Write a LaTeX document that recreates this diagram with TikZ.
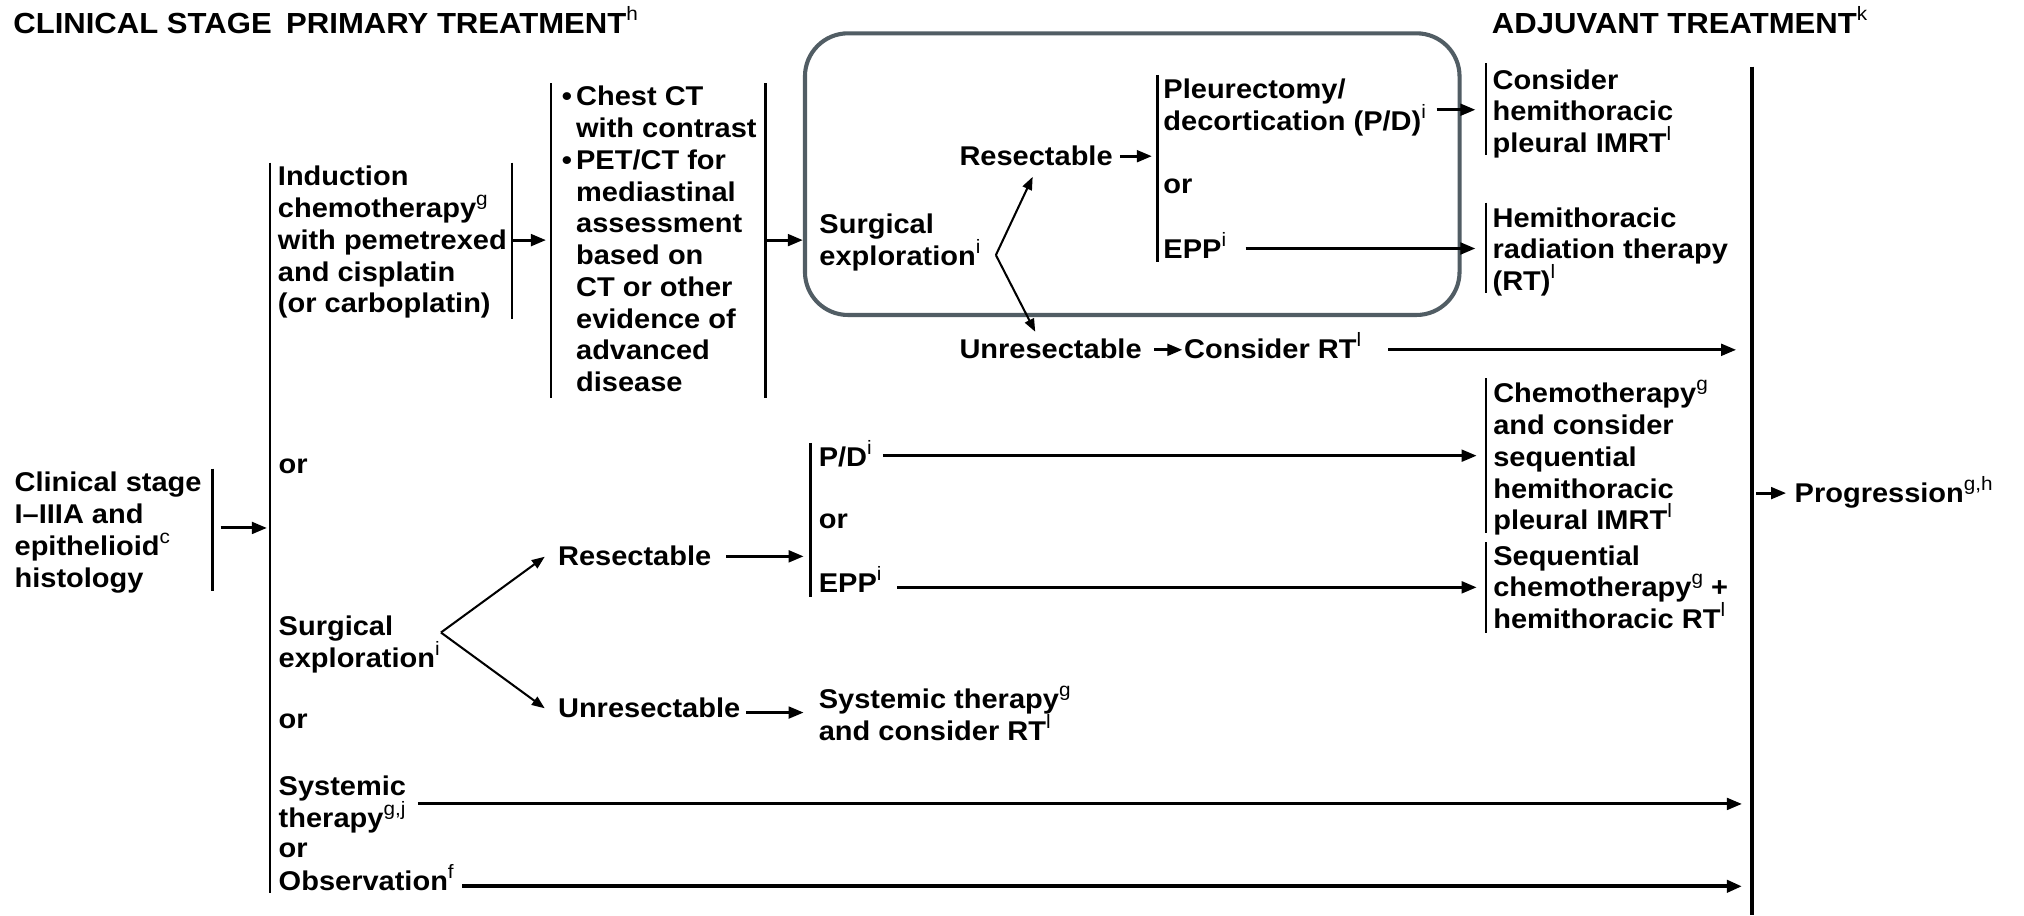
\documentclass[tikz,border=0pt]{standalone}
\usepackage{fontspec}
\setmainfont{Liberation Sans}[FakeStretch=1.07]
\usetikzlibrary{arrows.meta}
\definecolor{boxgrey}{HTML}{515D64}
\newcommand\sups[1]{\raisebox{0.44em}{\fontsize{9pt}{9pt}\selectfont\mdseries #1}}
\newcommand\bodyfont{\fontsize{12.6pt}{14.76pt}\selectfont\bfseries}
\newcommand\hdrfont{\fontsize{13.5pt}{15pt}\selectfont\bfseries}
\newcommand\bul{\makebox[6.6pt][l]{•}}
\begin{document}
\begin{tikzpicture}[x=0.6pt,y=-0.6pt,
  txt/.style={anchor=base west,inner sep=0pt,align=left,font=\bodyfont},
  hdr/.style={anchor=base west,inner sep=0pt,font=\hdrfont},
  barline/.style={line width=1.1pt},
  arr/.style={line width=1.4pt,-{Triangle[length=7pt,width=5.4pt]}},
  thinarr/.style={line width=0.95pt,-{Triangle[length=6pt,width=4.6pt]}}]
\fill[white] (0,0) rectangle (1568,709);
\useasboundingbox (0,0) rectangle (1568,709);

% headers
\node[hdr] (hdr1) at (10,25.8) {CLINICAL STAGE\hspace{0.5em}PRIMARY TREATMENT\sups{h}};
\node[hdr] (hdr2) at (1155.5,25.8) {ADJUVANT TREATMENT\sups{k}};

% rounded box
\draw[boxgrey,line width=1.9pt,rounded corners=20pt] (623.6,25.8) rectangle (1130.7,244);

% text nodes (anchor = baseline of the last line)
\node[txt] (clin) at (11,454.8) {Clinical stage\\I–IIIA and\\epithelioid\sups{c}\\histology};
\node[txt] (induct) at (215,242.4) {Induction\\chemotherapy\sups{g}\\with pemetrexed\\and cisplatin\\(or carboplatin)};
\node[txt] (chest) at (435,303.4) {\bul Chest CT\\\hspace*{6.6pt}with contrast\\\bul PET/CT for\\\hspace*{6.6pt}mediastinal\\\hspace*{6.6pt}assessment\\\hspace*{6.6pt}based on\\\hspace*{6.6pt}CT or other\\\hspace*{6.6pt}evidence of\\\hspace*{6.6pt}advanced\\\hspace*{6.6pt}disease};
\node[txt] (surg1) at (634.5,205.6) {Surgical\\exploration\sups{i}};
\node[txt] (res1) at (743,128) {Resectable};
\node[txt] (pleur) at (901,101) {Pleurectomy/\\decortication (P/D)\sups{i}};
\node[txt] (or1) at (901,150) {or};
\node[txt] (epp1) at (901,200) {EPP\sups{i}};
\node[txt] (cons1) at (1156,118.2) {Consider\\hemithoracic\\pleural IMRT\sups{l}};
\node[txt] (hemi) at (1156,225.2) {Hemithoracic\\radiation therapy\\(RT)\sups{l}};
\node[txt] (unres1) at (743,278) {Unresectable};
\node[txt] (consrt) at (917,278) {Consider RT\sups{l}};
\node[txt] (chemo) at (1156.5,410.4) {Chemotherapy\sups{g}\\and consider\\sequential\\hemithoracic\\pleural IMRT\sups{l}};
\node[txt] (seqc) at (1156.5,486.9) {Sequential\\chemotherapy\sups{g} +\\hemithoracic RT\sups{l}};
\node[txt] (prog) at (1390,389) {Progression\sups{g,h}};
\node[txt] (or2) at (215.6,367) {or};
\node[txt] (surg2) at (215.6,517.1) {Surgical\\exploration\sups{i}};
\node[txt] (res2) at (432,438) {Resectable};
\node[txt] (unres2) at (432,556) {Unresectable};
\node[txt] (pd2) at (634,361) {P/D\sups{i}};
\node[txt] (or3) at (634,409.5) {or};
\node[txt] (epp2) at (634,459) {EPP\sups{i}};
\node[txt] (syst2) at (634,573.6) {Systemic therapy\sups{g}\\and consider RT\sups{l}};
\node[txt] (or4) at (215.6,564.5) {or};
\node[txt] (syst) at (215.6,641.1) {Systemic\\therapy\sups{g,j}};
\node[txt] (or5) at (215.6,664) {or};
\node[txt] (obs) at (215.6,690) {Observation\sups{f}};

% bar coordinates
\coordinate (clinT) at (164.5,363);   \coordinate (clinB) at (164.5,458);
\coordinate (leftT) at (209,126);     \coordinate (leftB) at (209,692);
\coordinate (indT) at (396.5,126);    \coordinate (indB) at (396.5,247);
\coordinate (chLT) at (427,64.6);     \coordinate (chLB) at (427,308.6);
\coordinate (chRT) at (593,64.6);     \coordinate (chRB) at (593,308.6);
\coordinate (plT) at (896.6,58);      \coordinate (plB) at (896.6,203);
\coordinate (coT) at (1151,49);       \coordinate (coB) at (1151,120);
\coordinate (heT) at (1151,157);      \coordinate (heB) at (1151,227);
\coordinate (cmT) at (1151,293);      \coordinate (cmB) at (1151,413);
\coordinate (sqT) at (1151,420);      \coordinate (sqB) at (1151,490);
\coordinate (bigT) at (1357.5,51.6);  \coordinate (bigB) at (1357.5,709);
\coordinate (pdT) at (628,343);       \coordinate (pdB) at (628,462.5);

\draw[barline] (clinT) -- (clinB);
\draw[barline] (leftT) -- (leftB);
\draw[barline] (indT) -- (indB);
\draw[barline] (chLT) -- (chLB);
\draw[line width=1.8pt] (chRT) -- (chRB);
\draw[barline] (plT) -- (plB);
\draw[barline] (coT) -- (coB);
\draw[barline] (heT) -- (heB);
\draw[barline] (cmT) -- (cmB);
\draw[barline] (sqT) -- (sqB);
\draw[line width=1.9pt] (bigT) -- (bigB);
\draw[barline] (pdT) -- (pdB);

% arrow coordinates
\coordinate (a1s) at (171,409);      \coordinate (a1e) at (206.8,409);
\coordinate (a2s) at (397,186);      \coordinate (a2e) at (423,186);
\coordinate (a3s) at (593,186);      \coordinate (a3e) at (622,186);
\coordinate (br1) at (771.5,197.6);  \coordinate (br1u) at (800,137); \coordinate (br1d) at (802,257);
\coordinate (a4s) at (867.6,121);    \coordinate (a4e) at (892.4,121);
\coordinate (a5s) at (1113,85);      \coordinate (a5e) at (1143,85);
\coordinate (a6s) at (965,192.5);    \coordinate (a6e) at (1143,192.5);
\coordinate (a7s) at (894,271);      \coordinate (a7e) at (916,271);
\coordinate (a8s) at (1075.5,271);   \coordinate (a8e) at (1345,271);
\coordinate (a9s) at (1360.5,382);   \coordinate (a9e) at (1383.7,382);
\coordinate (br2) at (341.6,490);    \coordinate (br2u) at (422,431.3); \coordinate (br2d) at (422,548.7);
\coordinate (b1s) at (562.5,431);    \coordinate (b1e) at (622.6,431);
\coordinate (b2s) at (578,552);      \coordinate (b2e) at (622.6,552);
\coordinate (b3s) at (684,353);      \coordinate (b3e) at (1144,353);
\coordinate (b4s) at (695,455);      \coordinate (b4e) at (1144,455);
\coordinate (b5s) at (323.7,622.8);  \coordinate (b5e) at (1349.5,622.8);
\coordinate (b6s) at (358,686.6);    \coordinate (b6e) at (1349.5,686.6);

\draw[arr] (a1s) -- (a1e);
\draw[arr] (a2s) -- (a2e);
\draw[arr] (a3s) -- (a3e);
\draw[thinarr] (br1) -- (br1u);
\draw[thinarr] (br1) -- (br1d);
\draw[arr] (a4s) -- (a4e);
\draw[arr] (a5s) -- (a5e);
\draw[arr] (a6s) -- (a6e);
\draw[arr] (a7s) -- (a7e);
\draw[arr] (a8s) -- (a8e);
\draw[arr] (a9s) -- (a9e);
\draw[thinarr] (br2) -- (br2u);
\draw[thinarr] (br2) -- (br2d);
\draw[arr] (b1s) -- (b1e);
\draw[arr] (b2s) -- (b2e);
\draw[arr] (b3s) -- (b3e);
\draw[arr] (b4s) -- (b4e);
\draw[arr] (b5s) -- (b5e);
\draw[line width=1.9pt,-{Triangle[length=7pt,width=5.6pt]}] (b6s) -- (b6e);
\end{tikzpicture}
\end{document}
